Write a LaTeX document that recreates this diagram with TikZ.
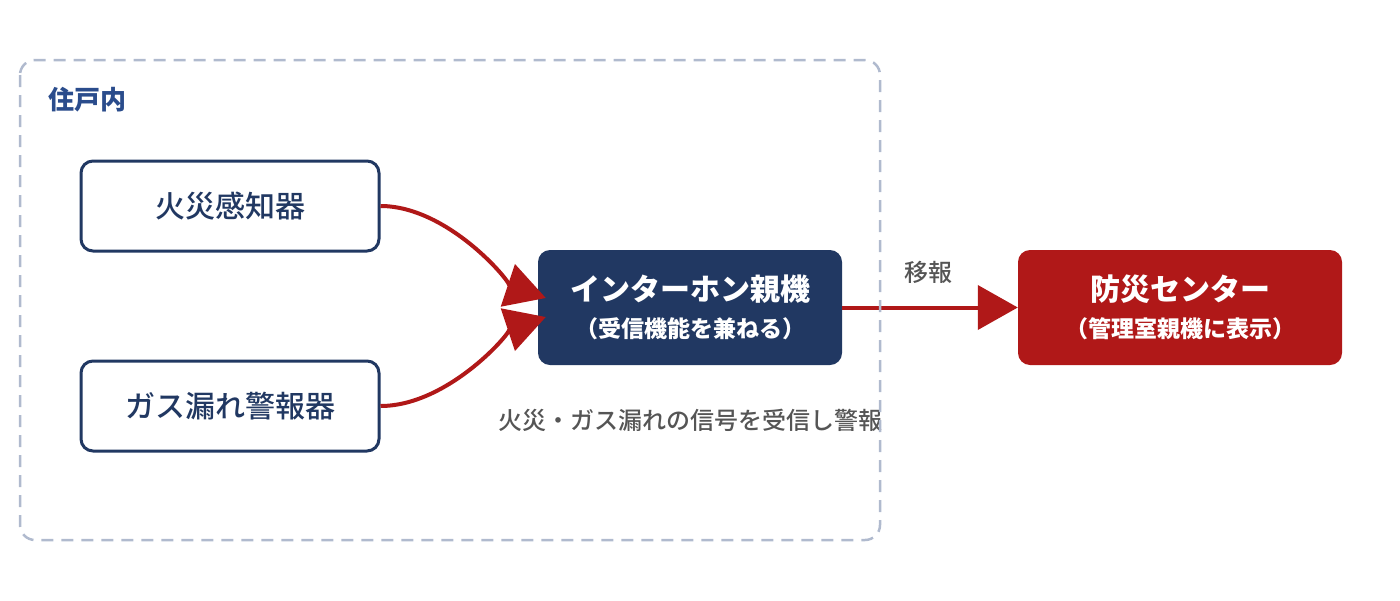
\documentclass[tikz,border=0pt]{standalone}
\usepackage{fontspec}
\setmainfont{Noto Sans CJK JP}
\newfontfamily\midfont{Noto Sans CJK JP}[UprightFont={* Medium}]
\usetikzlibrary{arrows.meta}
\definecolor{navy}{RGB}{33,56,98}
\definecolor{alarmred}{RGB}{176,24,24}
\definecolor{framegray}{RGB}{176,186,206}
\definecolor{labelblue}{RGB}{42,76,140}
\definecolor{notegray}{RGB}{85,85,85}

\begin{document}
\begin{tikzpicture}[x=1pt,y=-1pt,
  box/.style={draw=navy,line width=3pt,rounded corners=12pt,fill=white,
    minimum width=298pt,minimum height=90pt,text=navy,
    font=\midfont\fontsize{30}{34}\selectfont},
  hub/.style={rounded corners=12pt,minimum height=115pt,inner sep=0pt,
    text=white,align=center,font=\bfseries\fontsize{30}{34}\selectfont},
  sig/.style={draw=alarmred,line width=4pt,-{Triangle[length=40pt,width=44pt]}},
  note/.style={text=notegray,inner sep=0pt,font=\midfont\fontsize{24}{28}\selectfont}
]
\useasboundingbox (0,0) rectangle (1400,600);

% devices inside the dwelling
\node[box] (fire) at (230,206) {火災感知器};
\node[box] (gas) at (230,406) {ガス漏れ警報器};
\node[anchor=west,inner sep=0pt,text=labelblue,
  font=\bfseries\fontsize{26}{30}\selectfont] (home) at (48,100) {住戸内};

% receivers
\node[hub,fill=navy,minimum width=304pt] (ic) at (690,307.5)
  {インターホン親機\\[3pt]{\fontsize{23}{27}\selectfont （受信機能を兼ねる）}};
\node[hub,fill=alarmred,minimum width=324pt] (ctr) at (1180,307.5)
  {防災センター\\[3pt]{\fontsize{23}{27}\selectfont （管理室親機に表示）}};

% signals
\draw[sig] (fire.east) .. controls +(70,0) and +(-30,-10) .. ([xshift=8pt,yshift=9.5pt]ic.west);
\draw[sig] (gas.east) .. controls +(70,0) and +(-30,10) .. ([xshift=8pt,yshift=-9.5pt]ic.west);
\draw[sig] (ic.east) -- (ctr.west);

\node[note] (relay) at (928,272) {移報};
\node[note] (recv) at (690,420) {火災・ガス漏れの信号を受信し警報};

% dwelling frame
\draw[framegray,line width=2.5pt,dash pattern=on 12pt off 8pt,rounded corners=15pt]
  (20,60) rectangle (880,540);
\end{tikzpicture}
\end{document}
